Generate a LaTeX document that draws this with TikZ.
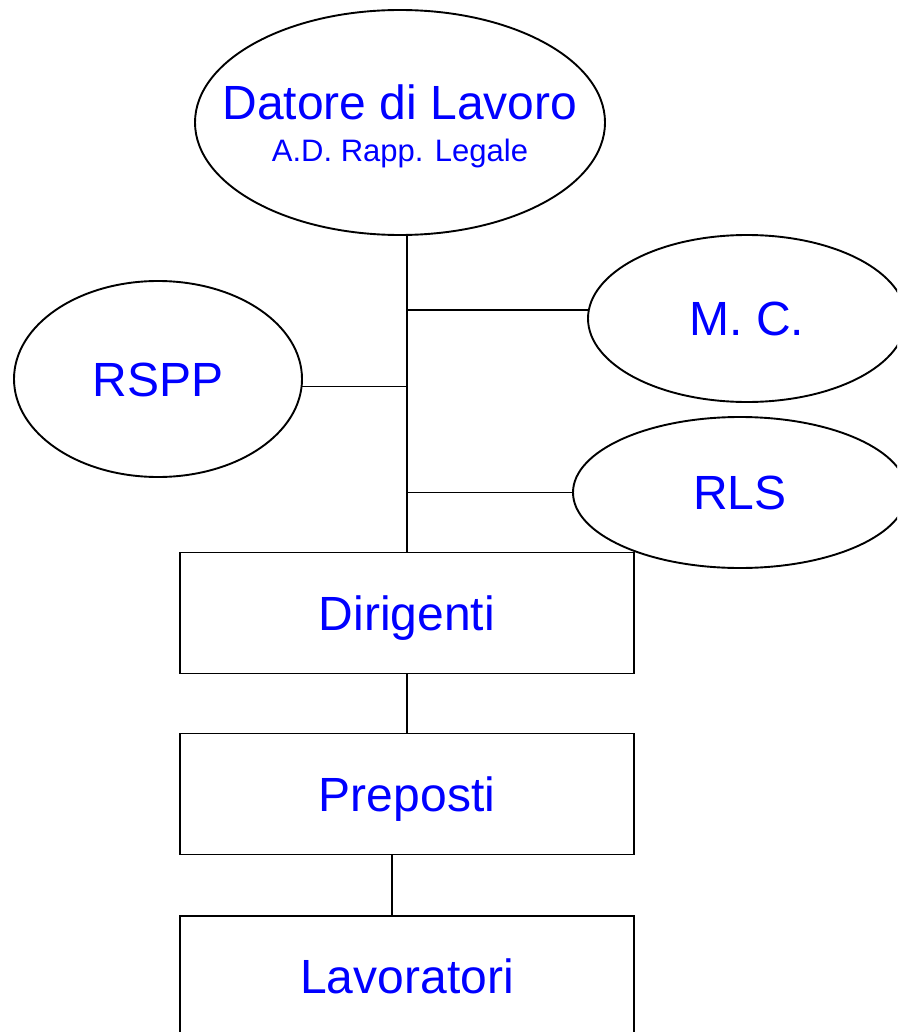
\documentclass[tikz,border=0pt]{standalone}
\usepackage{fontspec}
\setmainfont{Liberation Sans}
\usetikzlibrary{shapes.geometric}
\definecolor{txtblue}{RGB}{0,0,255}
\begin{document}
\begin{tikzpicture}[x=1pt,y=-1pt, line width=1.9pt,
  oval/.style={draw=black, ellipse, inner sep=0pt, outer sep=0pt, fill=white},
  boxnode/.style={draw=black, rectangle, inner sep=0pt, outer sep=0pt,
    minimum width=454pt, minimum height=121pt, fill=white},
  lbl/.style={text=txtblue, font=\fontsize{48}{50}\selectfont, text height=34.4pt, text depth=0pt},
  sublbl/.style={text=txtblue, font=\fontsize{31}{33}\selectfont, anchor=base, inner sep=0pt}]
\useasboundingbox (0,0) rectangle (897,1032);
\clip (0,0) rectangle (897,1032);
% boxes
\node[boxnode, lbl] (dir) at (407,613) {Dirigenti};
\node[boxnode, lbl] (prep) at (407,794) {Preposti};
\node[boxnode, lbl] (lav) at (407,976.5) {Lavoratori};
% ellipses
\node[oval, minimum width=410pt, minimum height=225pt] (dl) at (400,122.5) {};
\node[text=txtblue, font=\fontsize{48}{50}\selectfont, anchor=base, inner sep=0pt] (dlt) at (400,120) {Datore di Lavoro};
\node[sublbl] (dls) at (400,162) {A.D. Rapp. Legale};
\node[oval, lbl, minimum width=288pt, minimum height=196pt] (rspp) at (158,379) {RSPP};
\node[oval, lbl, minimum width=318pt, minimum height=167pt] (mc) at (747,318.5) {M. C.};
\node[oval, lbl, minimum width=334pt, minimum height=151pt] (rls) at (740,492.5) {RLS};
% connectors
\coordinate (top) at (dir.north |- dl.south);
\draw (dir.north) -- (top);
\draw (mc.177) -- (mc.177 -| dir.north);
\draw (rspp.-3) -- (rspp.-3 -| dir.north);
\draw (rls.west) -- (rls.west -| dir.north);
\draw (dir.south) -- (prep.north);
\draw ([xshift=-15pt]prep.south) -- ([xshift=-15pt]lav.north);
\end{tikzpicture}
\end{document}
